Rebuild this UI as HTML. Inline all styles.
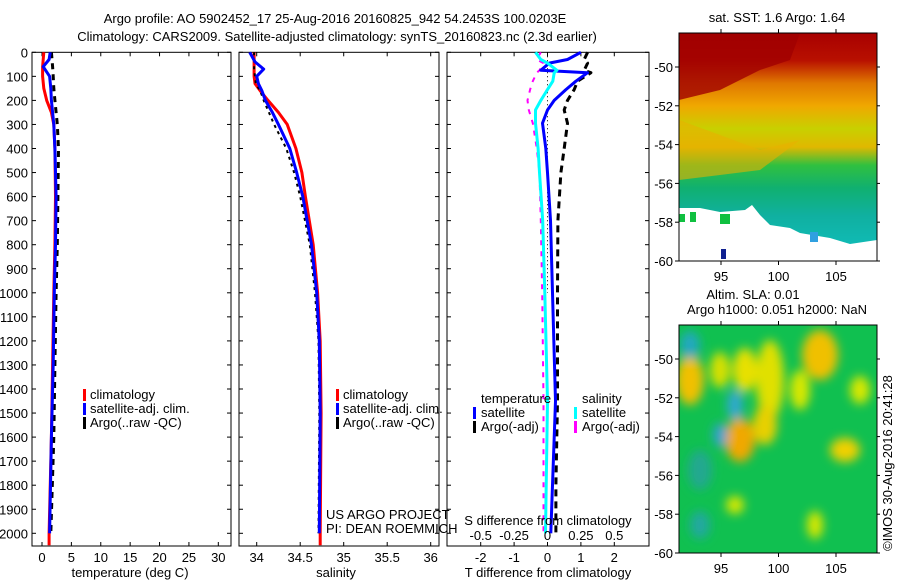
<!DOCTYPE html>
<html><head><meta charset="utf-8">
<style>
html,body{margin:0;padding:0;background:#fff;}
svg{display:block;font-family:"Liberation Sans",sans-serif;}
text{font-size:13px;fill:#000;}
</style></head>
<body>
<svg id="fig" width="900" height="580" viewBox="0 0 900 580" xmlns="http://www.w3.org/2000/svg">
<defs>
<linearGradient id="sstg" x1="0" y1="0" x2="0" y2="1">
<stop offset="0" stop-color="#a80000"/>
<stop offset="0.12" stop-color="#b81000"/>
<stop offset="0.22" stop-color="#e07800"/>
<stop offset="0.32" stop-color="#f0a800"/>
<stop offset="0.42" stop-color="#c8d000"/>
<stop offset="0.5" stop-color="#e0b800"/>
<stop offset="0.58" stop-color="#30c040"/>
<stop offset="0.68" stop-color="#10b070"/>
<stop offset="0.8" stop-color="#10b0a0"/>
<stop offset="1" stop-color="#10c0c0"/>
</linearGradient>
<filter id="blur" x="-20%" y="-20%" width="140%" height="140%"><feGaussianBlur stdDeviation="5"/></filter>
<clipPath id="m2clip"><rect x="679" y="325" width="198" height="228"/></clipPath>
<clipPath id="m1clip"><rect x="679" y="33" width="198" height="228"/></clipPath>
</defs>

<text x="335" y="23" text-anchor="middle">Argo profile: AO 5902452_17 25-Aug-2016 20160825_942 54.2453S 100.0203E</text>
<text x="337" y="41" text-anchor="middle">Climatology: CARS2009. Satellite-adjusted climatology: synTS_20160823.nc (2.3d earlier)</text>

<g id="p1"></g>
<g id="p2"></g>
<g id="p3"></g>

<!-- SST map -->
<g>
<text x="777" y="22" text-anchor="middle">sat. SST: 1.6 Argo: 1.64</text>
<g clip-path="url(#m1clip)">
<rect x="679" y="33" width="198" height="228" fill="url(#sstg)"/>
<polygon points="679,33 800,33 790,60 760,70 720,90 679,100" fill="#a00000" opacity="0.8"/>
<polygon points="679,120 720,135 760,150 800,140 760,170 720,175 679,180" fill="#e8b000" opacity="0.6"/>
<polygon points="679,208 700,208 720,212 745,210 752,205 760,215 770,225 790,228 800,233 830,238 850,244 877,240 877,261 679,261" fill="#fff"/>
<rect x="679" y="214" width="6" height="8" fill="#10c040"/>
<rect x="690" y="212" width="6" height="10" fill="#10c040"/>
<rect x="720" y="214" width="10" height="10" fill="#10c040"/>
<rect x="721" y="249" width="5" height="10" fill="#102090"/>
<rect x="810" y="232" width="8" height="10" fill="#30a0e0"/>
</g>
<rect x="679" y="33" width="198" height="228" fill="none" stroke="#000" stroke-width="1"/>
</g>

<!-- SLA map -->
<g>
<text x="753" y="299" text-anchor="middle">Altim. SLA: 0.01</text>
<text x="777" y="314" text-anchor="middle">Argo h1000: 0.051 h2000: NaN</text>
<g clip-path="url(#m2clip)">
<rect x="679" y="325" width="198" height="228" fill="#10c050"/>
<g filter="url(#blur)">
<ellipse cx="690" cy="380" rx="14" ry="25" fill="#f0c000"/>
<ellipse cx="720" cy="370" rx="10" ry="18" fill="#d8e000"/>
<ellipse cx="745" cy="370" rx="12" ry="22" fill="#e8e000"/>
<ellipse cx="770" cy="380" rx="14" ry="40" fill="#e0e000"/>
<ellipse cx="820" cy="355" rx="18" ry="25" fill="#f0c000"/>
<ellipse cx="800" cy="390" rx="10" ry="20" fill="#d8e800"/>
<ellipse cx="740" cy="440" rx="15" ry="22" fill="#f0a800"/>
<ellipse cx="765" cy="425" rx="12" ry="20" fill="#e8d000"/>
<ellipse cx="845" cy="450" rx="15" ry="12" fill="#f0d000"/>
<ellipse cx="690" cy="345" rx="10" ry="14" fill="#20a8c0"/>
<ellipse cx="735" cy="405" rx="8" ry="15" fill="#30a8d0"/>
<ellipse cx="720" cy="435" rx="7" ry="12" fill="#30a0d0"/>
<ellipse cx="735" cy="505" rx="9" ry="9" fill="#d8e800"/>
<ellipse cx="815" cy="525" rx="8" ry="14" fill="#d8e800"/>
<ellipse cx="700" cy="525" rx="10" ry="14" fill="#20a8a0"/>
<ellipse cx="860" cy="390" rx="10" ry="14" fill="#d8e800"/>
<ellipse cx="700" cy="470" rx="12" ry="20" fill="#20a890"/>
</g>
</g>
<rect x="679" y="325" width="198" height="228" fill="none" stroke="#000" stroke-width="1"/>
</g>
<text transform="translate(892,463) rotate(-90)" text-anchor="middle">©IMOS 30-Aug-2016 20:41:28</text>

<script>
// ---- data ----
const tempDepths = [0,30,60,100,150,200,250,300,400,600,800,1000,1300,1600,2000,2050];
const tempClim   = [0.3,0.2,0.1,0.1,0.3,0.8,1.6,2.0,2.2,2.3,2.2,2.0,1.8,1.6,1.2,1.2];
const tempSat    = [1.4,1.2,0.2,1.3,1.5,1.6,1.8,2.0,2.2,2.4,2.3,2.1,1.9,1.6,1.3];
const tempArgo   = [1.6,1.7,1.8,1.9,2.0,2.2,2.4,2.6,2.8,2.7,2.6,2.4,2.2,2.0,1.5];
const salDepths  = [0,40,70,100,130,160,200,250,300,400,500,600,800,1000,1200,1500,2000,2050];
const salClim    = [33.97,33.97,33.97,33.97,33.98,34.04,34.13,34.25,34.35,34.45,34.52,34.56,34.65,34.70,34.73,34.74,34.73,34.73];
const salSat     = [33.92,33.98,34.08,34.00,34.02,34.06,34.10,34.18,34.25,34.38,34.46,34.53,34.63,34.69,34.72,34.73,34.72];
const salArgo    = [33.97,33.97,33.97,33.98,33.99,34.04,34.08,34.14,34.20,34.34,34.43,34.50,34.61,34.67,34.71,34.72,34.71];
const diffDepths = [0,30,45,75,85,120,155,200,240,295,400,500,700,1000,1450,1800,2000];
const tDiffSat   = [1.0,0.6,0.05,-0.2,1.2,0.85,0.55,0.2,0.0,-0.15,-0.05,0.0,0.09,0.15,0.24,0.15,0.1];
const tDiffArgo  = [1.2,1.1,1.2,1.1,1.3,0.9,0.8,0.6,0.5,0.6,0.5,0.4,0.31,0.3,0.3,0.25,0.25];
const sDiffSat   = [-0.09,-0.05,0.0,0.07,0.05,0.04,0.0,-0.05,-0.09,-0.09,-0.07,-0.06,-0.036,-0.02,0.0,-0.01,-0.015];
const sDiffArgo  = [-0.05,-0.08,-0.03,-0.06,-0.08,-0.11,-0.13,-0.15,-0.14,-0.11,-0.08,-0.06,-0.05,-0.04,-0.03,-0.03,-0.03];
const depthTicks = [0,100,200,300,400,500,600,700,800,900,1000,1100,1200,1300,1400,1500,1600,1700,1800,1900,2000];
const tempTicks = [0,5,10,15,20,25,30];
const salTicks = [34,34.5,35,35.5,36];
const tdTicks = [-2,-1,0,1,2];
const sdTicks = [-0.5,-0.25,0,0.25,0.5];
const sdTickLabels = ['-0.5','-0.25','0','0.25','0.5'];
const latTicks = [-50,-52,-54,-56,-58,-60];
const lonTicks = [95,100,105];

// ---- scales ----
const TOP=52.3, BOT=546;
const yD = d => TOP + d*0.2405;
const xT = t => 42 + t*5.877;
const xS = s => 256.7 + (s-34)*87;
const xTd = t => 547.5 + t*33.4;
const xSd = s => 547.5 + s*133.6;
const yLat1 = lat => 67 + (-50-lat)*19.4;
const xLon = lon => 721 + (lon-95)*11.5;

const NS='http://www.w3.org/2000/svg';
const svg=document.getElementById('fig');
function mk(parent,tag,attrs){const e=document.createElementNS(NS,tag);for(const k in attrs)e.setAttribute(k,attrs[k]);parent.appendChild(e);return e;}
function txt(parent,x,y,s,anchor){const e=mk(parent,'text',{x:x,y:y,'text-anchor':anchor||'start'});e.textContent=s;return e;}
function line(parent,xs,ds,xf,color,w,dash){
  const pts=xs.map((v,i)=>xf(v).toFixed(1)+','+yD(ds[i]).toFixed(1)).join(' ');
  const a={points:pts,fill:'none',stroke:color,'stroke-width':w,'stroke-linejoin':'round'};
  if(dash)a['stroke-dasharray']=dash;
  return mk(parent,'polyline',a);
}

function panel(g,x0,x1,ticksX,xf,labelsX,leftLabels){
  const r=mk(g,'rect',{x:x0,y:TOP,width:x1-x0,height:BOT-TOP,fill:'none',stroke:'#000','stroke-width':1});
  
  
  depthTicks.forEach(d=>{
    mk(g,'line',{x1:x0,x2:x0+4,y1:yD(d),y2:yD(d),stroke:'#000'});
    mk(g,'line',{x1:x1,x2:x1-4,y1:yD(d),y2:yD(d),stroke:'#000'});
    if(leftLabels){const t=txt(g,x0-4,yD(d)+5,String(d),'end');
      
      }
  });
  ticksX.forEach((v,i)=>{
    mk(g,'line',{x1:xf(v),x2:xf(v),y1:TOP,y2:TOP+4,stroke:'#000'});
    mk(g,'line',{x1:xf(v),x2:xf(v),y1:BOT,y2:BOT-4,stroke:'#000'});
    const t=txt(g,xf(v),562,labelsX[i],'middle');
    
    
  });
}
function legendMark(g,x,y,color,w){mk(g,'rect',{x:x,y:y-10,width:w||3,height:12,fill:color});}

// Panel 1
const p1=document.getElementById('p1');
panel(p1,32,231,tempTicks,xT,tempTicks.map(String),true);
line(p1,tempClim,tempDepths,xT,'#ff0000',3);
line(p1,tempArgo,tempDepths.slice(0,15),xT,'#000',3,'6,5');
line(p1,tempSat,tempDepths.slice(0,15),xT,'#0000ff',3);
let t=txt(p1,130,577,'temperature (deg C)','middle');


[['#ff0000','climatology'],['#0000ff','satellite-adj. clim.'],['#000','Argo(..raw -QC)']].forEach((e,i)=>{
  legendMark(p1,83,399+i*14,e[0]);
  const l=txt(p1,90,399+i*14,e[1]);
  
  
});

// Panel 2
const p2=document.getElementById('p2');
panel(p2,239,439,salTicks,xS,['34','34.5','35','35.5','36'],false);
line(p2,salClim,salDepths,xS,'#ff0000',3);
line(p2,salArgo,salDepths.slice(0,17),xS,'#000',2,'3,4');
line(p2,salSat,salDepths.slice(0,17),xS,'#0000ff',3);
t=txt(p2,336,577,'salinity','middle');


[['#ff0000','climatology'],['#0000ff','satellite-adj. clim.'],['#000','Argo(..raw -QC)']].forEach((e,i)=>{
  legendMark(p2,336,399+i*14,e[0]);
  const l=txt(p2,343,399+i*14,e[1]);
  
  
});
t=txt(p2,326,519,'US ARGO PROJECT');


t=txt(p2,326,533,'PI: DEAN ROEMMICH');



// Panel 3
const p3=document.getElementById('p3');
panel(p3,447,649,tdTicks,xTd,tdTicks.map(String),false);
mk(p3,'line',{x1:xTd(0),x2:xTd(0),y1:TOP,y2:yD(1000),stroke:'#000','stroke-dasharray':'1,3'});
line(p3,sDiffArgo,diffDepths,xSd,'#ff00ff',2,'5,6');
line(p3,tDiffArgo,diffDepths,xTd,'#000',3,'7,5');
line(p3,tDiffSat,diffDepths,xTd,'#0000ff',3);
line(p3,sDiffSat,diffDepths,xSd,'#00ffff',3);
sdTicks.forEach((v,i)=>{const l=txt(p3,xSd(v),540,sdTickLabels[i],'middle');
  
  });
t=txt(p3,548,525,'S difference from climatology','middle');


t=txt(p3,548,577,'T difference from climatology','middle');


t=txt(p3,481,403,'temperature');


t=txt(p3,582,403,'salinity');


[['#0000ff','satellite',473,481,417],['#000','Argo(-adj)',473,481,431],['#00ffff','satellite',574,582,417],['#ff00ff','Argo(-adj)',574,582,431]].forEach(e=>{
  legendMark(p3,e[2],e[4],e[0]);
  const l=txt(p3,e[3],e[4],e[1]);
  
  
});

// Map axes
[0,292].forEach(off=>{
  const g=mk(svg,'g',{});
  
  
  latTicks.forEach(lat=>{
    const y=yLat1(lat)+off;
    mk(g,'line',{x1:679,x2:675,y1:y,y2:y,stroke:'#000'});
    mk(g,'line',{x1:877,x2:880,y1:y,y2:y,stroke:'#000'});
    const l=txt(g,673,y+5,String(lat),'end');
    
    
  });
  lonTicks.forEach(lon=>{
    const x=xLon(lon), yb=261+off;
    mk(g,'line',{x1:x,x2:x,y1:yb,y2:yb+4,stroke:'#000'});
    mk(g,'line',{x1:x,x2:x,y1:33+off,y2:29+off,stroke:'#000'});
    const l=txt(g,x,yb+20,String(lon),'middle');
    
    
  });
});
</script>
</svg>
</body></html>
